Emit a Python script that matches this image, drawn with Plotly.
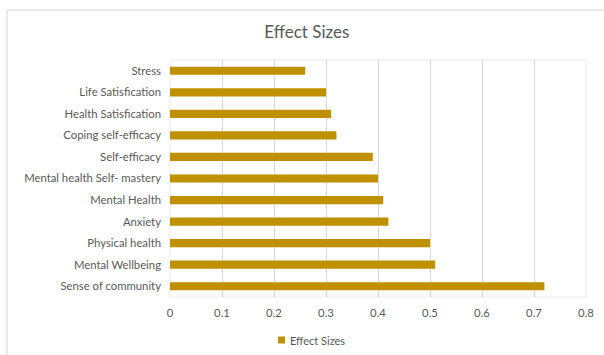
import plotly.graph_objects as go

# Outcomes listed bottom-to-top as they appear on the category axis
outcomes = [
    "Sense of community",
    "Mental Wellbeing",
    "Physical health",
    "Anxiety",
    "Mental Health",
    "Mental health Self- mastery",
    "Self-efficacy",
    "Coping self-efficacy",
    "Health Satisfication",
    "Life Satisfication",
    "Stress",
]
effect_sizes = [0.72, 0.51, 0.50, 0.42, 0.41, 0.40, 0.39, 0.32, 0.31, 0.30, 0.26]
x_ticks = [0, 0.1, 0.2, 0.3, 0.4, 0.5, 0.6, 0.7, 0.8]
series_name = "Effect Sizes"

W, H = 604, 355
ML, MR, MT, MB = 170, 18, 60, 58
PW, PH = W - ML - MR, H - MT - MB

BAR = "#BF9000"
TXT = "#595959"
GRID = "#D9D9D9"
FONT = "Lato, 'Open Sans', sans-serif"


def px_x(px):
    return (px - ML) / PW


def px_y(py):
    return 1 - (py - MT) / PH


fig = go.Figure(
    go.Bar(
        x=effect_sizes,
        y=outcomes,
        orientation="h",
        name=series_name,
        marker=dict(color=BAR, line=dict(width=0)),
        width=0.38,
        showlegend=False,
    )
)

fig.update_layout(
    width=W,
    height=H,
    margin=dict(l=ML, r=MR, t=MT, b=MB, autoexpand=False),
    paper_bgcolor="white",
    plot_bgcolor="white",
    font=dict(family=FONT, size=11.3, color=TXT),
    title=dict(
        text="Effect Sizes",
        x=0.508,
        xanchor="center",
        y=1 - 32 / H,
        yanchor="middle",
        font=dict(family=FONT, size=17, color=TXT),
    ),
    showlegend=False,
    xaxis=dict(
        range=[0, 0.8],
        tickvals=x_ticks,
        ticktext=[f"{v:g}" for v in x_ticks],
        showgrid=True,
        gridcolor=GRID,
        gridwidth=1,
        zeroline=False,
        showline=False,
        ticks="",
        ticklabelstandoff=8,
        fixedrange=True,
    ),
    yaxis=dict(
        categoryorder="array",
        categoryarray=outcomes,
        showgrid=False,
        zeroline=False,
        showline=False,
        ticks="",
        ticklabelstandoff=8,
        fixedrange=True,
    ),
    shapes=[
        # plot-area frame
        dict(type="rect", xref="paper", yref="paper", x0=0, x1=1, y0=0, y1=1,
             line=dict(color="#EBEBEB", width=1), layer="below"),
        # outer chart frame (top and left edges)
        dict(type="line", xref="paper", yref="paper",
             x0=px_x(7), x1=px_x(W), y0=px_y(10), y1=px_y(10),
             line=dict(color="#E3E3E3", width=1.5)),
        dict(type="line", xref="paper", yref="paper",
             x0=px_x(7), x1=px_x(7), y0=px_y(10), y1=px_y(H),
             line=dict(color="#E3E3E3", width=1.5)),
        # legend swatch
        dict(type="rect", xref="paper", yref="paper",
             x0=px_x(278), x1=px_x(285), y0=px_y(343.5), y1=px_y(336.5),
             fillcolor=BAR, line=dict(width=0)),
    ],
    annotations=[
        dict(text=series_name, xref="paper", yref="paper",
             x=px_x(288), y=px_y(340), xanchor="left", yanchor="middle",
             showarrow=False, font=dict(family=FONT, size=11, color=TXT)),
    ],
)

fig.write_html("out.html")
